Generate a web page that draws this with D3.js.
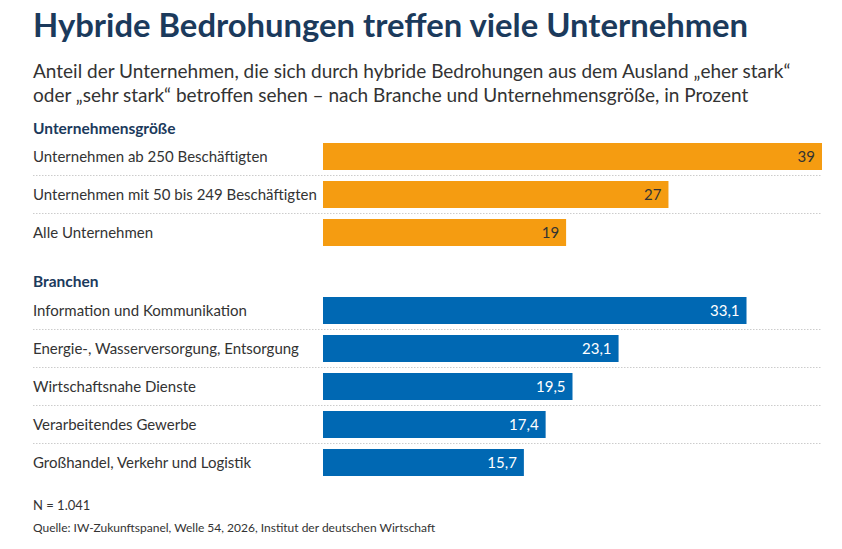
<!DOCTYPE html>
<html lang="de">
<head>
<meta charset="utf-8">
<title>Hybride Bedrohungen</title>
<script src="https://d3js.org/d3.v7.min.js"></script>
<style>
  body { margin: 0; background: #fff; }
  svg { font-family: Lato, "Open Sans", sans-serif; }
</style>
</head>
<body>
<svg id="chart"></svg>
<script>
// data
var sizeLabels = ["Unternehmen ab 250 Beschäftigten", "Unternehmen mit 50 bis 249 Beschäftigten", "Alle Unternehmen"];
var sizeValues = [39, 27, 19];
var branchLabels = ["Information und Kommunikation", "Energie-, Wasserversorgung, Entsorgung",
  "Wirtschaftsnahe Dienste", "Verarbeitendes Gewerbe", "Großhandel, Verkehr und Logistik"];
var branchValues = [33.1, 23.1, 19.5, 17.4, 15.7];

var config = {
  w: 842, h: 549,
  left: 33, barX: 323, right: 822,
  rowH: 38, barH: 27
};

var navy = "#1b3a5c";
var text = "#333";

var svg = d3.select("#chart").attr("width", config.w).attr("height", config.h);

// x scale shared by both groups
var x = d3.scaleLinear()
  .domain([0, d3.max(sizeValues.concat(branchValues))])
  .range([config.barX, config.right]);

var fmt = function(v) { return String(v).replace(".", ","); };

// title + subtitle
svg.append("text").attr("x", config.left).attr("y", 37)
  .style("font-size", "32.8px").style("font-weight", "bold").style("fill", navy)
  .text("Hybride Bedrohungen treffen viele Unternehmen");

svg.append("text").attr("x", config.left).attr("y", 78)
  .style("font-size", "19px").style("fill", text)
  .text("Anteil der Unternehmen, die sich durch hybride Bedrohungen aus dem Ausland „eher stark“");
svg.append("text").attr("x", config.left).attr("y", 102)
  .style("font-size", "19px").style("fill", text)
  .text("oder „sehr stark“ betroffen sehen – nach Branche und Unternehmensgröße, in Prozent");

function drawGroup(title, titleY, top, labels, values, color, labelColor) {
  svg.append("text").attr("x", config.left).attr("y", titleY)
    .style("font-size", "15.5px").style("font-weight", "bold").style("fill", navy)
    .text(title);

  var n = labels.length;
  var y = d3.scaleBand()
    .domain(labels)
    .range([top, top + (n - 1) * config.rowH + config.barH])
    .paddingInner((config.rowH - config.barH) / config.rowH)
    .paddingOuter(0).align(0);

  var g = svg.append("g");

  // dotted separators between rows
  g.selectAll("line.sep")
    .data(labels.slice(1))
    .enter().append("line")
    .attr("x1", config.left).attr("x2", config.right)
    .attr("y1", function(d) { return y(d) - 5.5; })
    .attr("y2", function(d) { return y(d) - 5.5; })
    .style("stroke", "#ccc").style("stroke-width", 1)
    .style("stroke-dasharray", "1.5,1.5");

  var rows = g.selectAll("g.row")
    .data(labels.map(function(l, i) { return { label: l, value: values[i] }; }))
    .enter().append("g");

  rows.append("text")
    .attr("x", config.left)
    .attr("y", function(d) { return y(d.label) + y.bandwidth() / 2; })
    .attr("dy", "0.35em")
    .style("font-size", "15px").style("fill", text)
    .text(function(d) { return d.label; });

  rows.append("rect")
    .attr("x", x(0))
    .attr("y", function(d) { return y(d.label); })
    .attr("width", function(d) { return x(d.value) - x(0); })
    .attr("height", y.bandwidth())
    .style("fill", color);

  rows.append("text")
    .attr("x", function(d) { return x(d.value) - 7; })
    .attr("y", function(d) { return y(d.label) + y.bandwidth() / 2; })
    .attr("dy", "0.35em")
    .attr("text-anchor", "end")
    .style("font-size", "15px").style("fill", labelColor)
    .text(function(d) { return fmt(d.value); });
}

drawGroup("Unternehmensgröße", 134, 143, sizeLabels, sizeValues, "#f59c11", "#333");
drawGroup("Branchen", 287, 297, branchLabels, branchValues, "#0068b3", "#fff");

// footer
svg.append("text").attr("x", config.left).attr("y", 510)
  .style("font-size", "13px").style("fill", text).text("N = 1.041");
svg.append("text").attr("x", config.left).attr("y", 532)
  .style("font-size", "12px").style("fill", text)
  .text("Quelle: IW-Zukunftspanel, Welle 54, 2026, Institut der deutschen Wirtschaft");
</script>
</body>
</html>
